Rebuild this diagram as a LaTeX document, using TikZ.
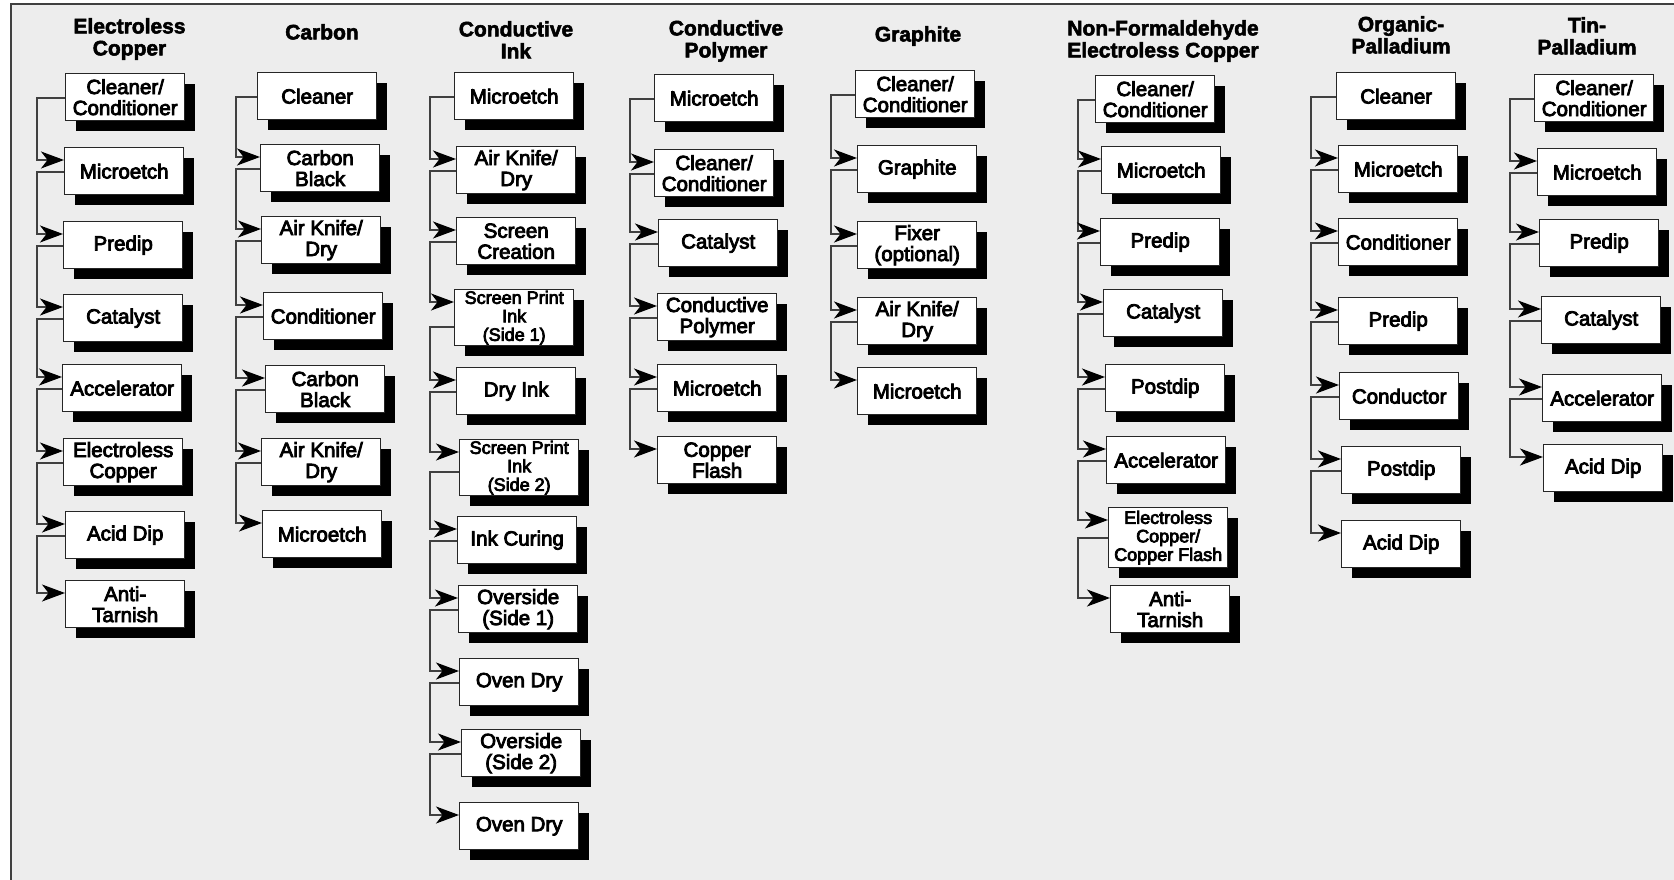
\documentclass[tikz,border=0pt]{standalone}
\usepackage{fontspec}
\setmainfont{Liberation Sans}
\newfontfamily\boxfam{Liberation Sans}[FakeBold=4]
\newfontfamily\headfam{Liberation Sans Bold}[FakeBold=2.5]
\usetikzlibrary{arrows.meta,shadows}
\definecolor{bg}{HTML}{EDEDED}
\definecolor{ln}{HTML}{404040}
\newcommand\boxfont{\boxfam\fontsize{20.5}{21}\selectfont}
\newcommand\smallboxfont{\boxfam\fontsize{18}{18.5}\selectfont}
\newcommand\headfont{\headfam\fontsize{21}{22}\selectfont}
% #1 exit offset, #2 column line, #3 from, #4 to
\newcommand\linkstep[4][25]{\draw[conn] ([yshift=-#1pt]#3.north west) -| ([yshift=-13pt]#2 |- #4.north west) -- ([yshift=-13pt]#4.north west);}
\begin{document}
\begin{tikzpicture}[x=1pt,y=-1pt,
  stepbox/.style={draw=black!85, line width=1.4pt, fill=white, minimum width=119pt, minimum height=47pt,
    inner sep=0pt, anchor=north west, align=center, font=\boxfont,
    drop shadow={shadow xshift=10pt, shadow yshift=-10pt, fill=black, opacity=1}},
  tallbox/.style={stepbox, minimum height=56pt, font=\smallboxfont},
  head/.style={anchor=north, inner sep=0pt, align=center, font=\headfont},
  conn/.style={draw=ln, line width=1.3pt, -{Stealth[length=23pt,width=17pt,inset=6.5pt,color=black]}},
]
\useasboundingbox (0,0) rectangle (1674,880);
\fill[white] (0,0) rectangle (1674,880);
\fill[bg] (10,4) rectangle (1674,880);
\draw[ln, line width=2pt] (10.5,880) -- (10.5,4.5) -- (1674,4.5);

% column lines
\coordinate (v1) at (37,0);
\coordinate (v2) at (236,0);
\coordinate (v3) at (430,0);
\coordinate (v4) at (630,0);
\coordinate (v5) at (831,0);
\coordinate (v6) at (1078,0);
\coordinate (v7) at (1311,0);
\coordinate (v8) at (1510,0);

% headers
\node[head] (h1) at (129.5,18) {Electroless\\Copper};
\node[head] (h2) at (322,24) {Carbon};
\node[head] (h3) at (516,21) {Conductive\\Ink};
\node[head] (h4) at (726,20) {Conductive\\Polymer};
\node[head] (h5) at (918,26) {Graphite};
\node[head] (h6) at (1163,20) {Non-Formaldehyde\\Electroless Copper};
\node[head] (h7) at (1401,16) {Organic-\\Palladium};
\node[head] (h8) at (1587,17) {Tin-\\Palladium};

% column 1
\node[stepbox] (c1a) at (65,73) {Cleaner/\\Conditioner};
\node[stepbox] (c1b) at (64,147) {Microetch};
\node[stepbox] (c1c) at (63,221) {Predip};
\node[stepbox] (c1d) at (63,294) {Catalyst};
\node[stepbox] (c1e) at (62,364) {Accelerator};
\node[stepbox] (c1f) at (63,438) {Electroless\\Copper};
\node[stepbox] (c1g) at (65,511) {Acid Dip};
\node[stepbox] (c1h) at (65,580) {Anti-\\Tarnish};
\linkstep{v1}{c1a}{c1b}
\linkstep{v1}{c1b}{c1c}
\linkstep{v1}{c1c}{c1d}
\linkstep{v1}{c1d}{c1e}
\linkstep{v1}{c1e}{c1f}
\linkstep{v1}{c1f}{c1g}
\linkstep{v1}{c1g}{c1h}

% column 2
\node[stepbox] (c2a) at (257,72) {Cleaner};
\node[stepbox] (c2b) at (260,144) {Carbon\\Black};
\node[stepbox] (c2c) at (261,216) {Air Knife/\\Dry};
\node[stepbox] (c2d) at (263,292) {Conditioner};
\node[stepbox] (c2e) at (265,365) {Carbon\\Black};
\node[stepbox] (c2f) at (261,438) {Air Knife/\\Dry};
\node[stepbox] (c2g) at (262,510) {Microetch};
\linkstep{v2}{c2a}{c2b}
\linkstep{v2}{c2b}{c2c}
\linkstep{v2}{c2c}{c2d}
\linkstep{v2}{c2d}{c2e}
\linkstep{v2}{c2e}{c2f}
\linkstep{v2}{c2f}{c2g}

% column 3
\node[stepbox] (c3a) at (454,72) {Microetch};
\node[stepbox] (c3b) at (456,146) {Air Knife/\\Dry};
\node[stepbox] (c3c) at (456,217) {Screen\\Creation};
\node[tallbox] (c3d) at (454,289) {Screen Print\\Ink\\(Side 1)};
\node[stepbox] (c3e) at (456,367) {Dry Ink};
\node[tallbox] (c3f) at (459,439) {Screen Print\\Ink\\(Side 2)};
\node[stepbox] (c3g) at (457,516) {Ink Curing};
\node[stepbox] (c3h) at (458,585) {Overside\\(Side 1)};
\node[stepbox] (c3i) at (459,658) {Oven Dry};
\node[stepbox] (c3j) at (461,729) {Overside\\(Side 2)};
\node[stepbox] (c3k) at (459,802) {Oven Dry};
\linkstep{v3}{c3a}{c3b}
\linkstep{v3}{c3b}{c3c}
\linkstep{v3}{c3c}{c3d}
\linkstep[38]{v3}{c3d}{c3e}
\linkstep{v3}{c3e}{c3f}
\linkstep[33]{v3}{c3f}{c3g}
\linkstep{v3}{c3g}{c3h}
\linkstep{v3}{c3h}{c3i}
\linkstep{v3}{c3i}{c3j}
\linkstep{v3}{c3j}{c3k}

% column 4
\node[stepbox] (c4a) at (654,74) {Microetch};
\node[stepbox] (c4b) at (654,149) {Cleaner/\\Conditioner};
\node[stepbox] (c4c) at (658,219) {Catalyst};
\node[stepbox] (c4d) at (657,293) {Conductive\\Polymer};
\node[stepbox] (c4e) at (657,364) {Microetch};
\node[stepbox] (c4f) at (657,436) {Copper\\Flash};
\linkstep{v4}{c4a}{c4b}
\linkstep{v4}{c4b}{c4c}
\linkstep{v4}{c4c}{c4d}
\linkstep{v4}{c4d}{c4e}
\linkstep{v4}{c4e}{c4f}

% column 5
\node[stepbox] (c5a) at (855,70) {Cleaner/\\Conditioner};
\node[stepbox] (c5b) at (857,145) {Graphite};
\node[stepbox] (c5c) at (857,221) {Fixer\\(optional)};
\node[stepbox] (c5d) at (857,297) {Air Knife/\\Dry};
\node[stepbox] (c5e) at (857,367) {Microetch};
\linkstep{v5}{c5a}{c5b}
\linkstep{v5}{c5b}{c5c}
\linkstep{v5}{c5c}{c5d}
\linkstep{v5}{c5d}{c5e}

% column 6
\node[stepbox] (c6a) at (1095,75) {Cleaner/\\Conditioner};
\node[stepbox] (c6b) at (1101,146) {Microetch};
\node[stepbox] (c6c) at (1100,218) {Predip};
\node[stepbox] (c6d) at (1103,289) {Catalyst};
\node[stepbox] (c6e) at (1105,364) {Postdip};
\node[stepbox] (c6f) at (1106,436) {Accelerator};
\node[stepbox, minimum height=60pt, font=\smallboxfont] (c6g) at (1108,507) {Electroless\\Copper/\\Copper Flash};
\node[stepbox] (c6h) at (1110,585) {Anti-\\Tarnish};
\linkstep{v6}{c6a}{c6b}
\linkstep{v6}{c6b}{c6c}
\linkstep{v6}{c6c}{c6d}
\linkstep{v6}{c6d}{c6e}
\linkstep{v6}{c6e}{c6f}
\linkstep{v6}{c6f}{c6g}
\linkstep[31]{v6}{c6g}{c6h}

% column 7
\node[stepbox] (c7a) at (1336,72) {Cleaner};
\node[stepbox] (c7b) at (1338,145) {Microetch};
\node[stepbox] (c7c) at (1338,218) {Conditioner};
\node[stepbox] (c7d) at (1338,297) {Predip};
\node[stepbox] (c7e) at (1339,372) {Conductor};
\node[stepbox] (c7f) at (1341,446) {Postdip};
\node[stepbox] (c7g) at (1341,520) {Acid Dip};
\linkstep{v7}{c7a}{c7b}
\linkstep{v7}{c7b}{c7c}
\linkstep{v7}{c7c}{c7d}
\linkstep{v7}{c7d}{c7e}
\linkstep{v7}{c7e}{c7f}
\linkstep{v7}{c7f}{c7g}

% column 8
\node[stepbox] (c8a) at (1534,74) {Cleaner/\\Conditioner};
\node[stepbox] (c8b) at (1537,148) {Microetch};
\node[stepbox] (c8c) at (1539,219) {Predip};
\node[stepbox] (c8d) at (1541,296) {Catalyst};
\node[stepbox] (c8e) at (1542,374) {Accelerator};
\node[stepbox] (c8f) at (1543,444) {Acid Dip};
\linkstep{v8}{c8a}{c8b}
\linkstep{v8}{c8b}{c8c}
\linkstep{v8}{c8c}{c8d}
\linkstep{v8}{c8d}{c8e}
\linkstep{v8}{c8e}{c8f}
\end{tikzpicture}
\end{document}
